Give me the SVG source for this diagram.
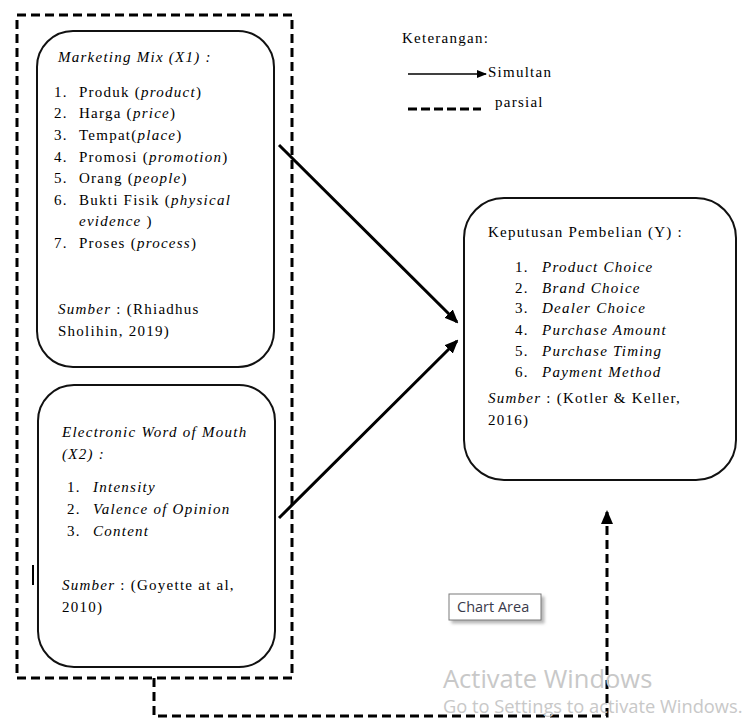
<svg xmlns="http://www.w3.org/2000/svg" width="748" height="718" viewBox="0 0 748 718">
<style>
.t{font-family:"Liberation Serif","Times New Roman",serif;font-size:15px;letter-spacing:1.25px;fill:#000}
.i{font-style:italic}
.box{fill:#fff;stroke:#111;stroke-width:2}
.dash{fill:none;stroke:#000;stroke-width:3;stroke-dasharray:9 5}
.sol{fill:none;stroke:#000;stroke-width:3}
.wm{font-family:"Open Sans","Noto Sans",sans-serif;fill:#c8c8c8}
</style>
<defs>
<marker id="ah" markerWidth="14" markerHeight="12" refX="12" refY="6" orient="auto" markerUnits="userSpaceOnUse">
<path d="M0,0 L14,6 L0,12 Z" fill="#000"/>
</marker>
<marker id="ahs" markerWidth="10" markerHeight="8" refX="9" refY="4" orient="auto" markerUnits="userSpaceOnUse">
<path d="M0,0 L10,4 L0,8 Z" fill="#000"/>
</marker>
<filter id="sh" x="-10%" y="-10%" width="130%" height="150%">
<feDropShadow dx="3" dy="3" stdDeviation="1.5" flood-color="#888" flood-opacity="0.6"/>
</filter>
</defs>
<rect width="748" height="718" fill="#fff"/>

<g id="outer-group">
<rect x="17" y="15" width="275" height="663" class="dash"/>
</g>

<g id="x1">
<rect x="37" y="31" width="237" height="336" rx="36" class="box"/>
<text class="t i" x="58" y="62">Marketing Mix (X1) :</text>
<text class="t" x="54" y="97">1.</text><text class="t" x="79" y="97">Produk (<tspan class="i">product</tspan>)</text>
<text class="t" x="54" y="118">2.</text><text class="t" x="79" y="118">Harga (<tspan class="i">price</tspan>)</text>
<text class="t" x="54" y="140">3.</text><text class="t" x="79" y="140">Tempat(<tspan class="i">place</tspan>)</text>
<text class="t" x="54" y="162">4.</text><text class="t" x="79" y="162">Promosi (<tspan class="i">promotion</tspan>)</text>
<text class="t" x="54" y="183">5.</text><text class="t" x="79" y="183">Orang (<tspan class="i">people</tspan>)</text>
<text class="t" x="54" y="205">6.</text><text class="t" x="79" y="205">Bukti Fisik  (<tspan class="i">physical</tspan></text>
<text class="t" x="79" y="226"><tspan class="i">evidence</tspan> )</text>
<text class="t" x="54" y="248">7.</text><text class="t" x="79" y="248">Proses (<tspan class="i">process</tspan>)</text>
<text class="t" x="58" y="314"><tspan class="i">Sumber</tspan> : (Rhiadhus</text>
<text class="t" x="58" y="336">Sholihin, 2019)</text>
</g>

<g id="x2">
<rect x="38" y="385" width="237" height="282" rx="36" class="box"/>
<text class="t i" x="62" y="437">Electronic Word of Mouth</text>
<text class="t i" x="62" y="459">(X2) :</text>
<text class="t" x="67" y="492">1.</text><text class="t i" x="93" y="492">Intensity</text>
<text class="t" x="67" y="514">2.</text><text class="t i" x="93" y="514">Valence of Opinion</text>
<text class="t" x="67" y="536">3.</text><text class="t i" x="93" y="536">Content</text>
<text class="t" x="62" y="590"><tspan class="i">Sumber</tspan> : (Goyette at al,</text>
<text class="t" x="62" y="612">2010)</text>
</g>

<g id="y">
<rect x="464" y="198" width="272" height="282" rx="40" class="box"/>
<text class="t" x="488" y="237">Keputusan Pembelian (Y) :</text>
<text class="t" x="515" y="272">1.</text><text class="t i" x="542" y="272">Product Choice</text>
<text class="t" x="515" y="293">2.</text><text class="t i" x="542" y="293">Brand Choice</text>
<text class="t" x="515" y="313">3.</text><text class="t i" x="542" y="313">Dealer Choice</text>
<text class="t" x="515" y="335">4.</text><text class="t i" x="542" y="335">Purchase Amount</text>
<text class="t" x="515" y="356">5.</text><text class="t i" x="542" y="356">Purchase Timing</text>
<text class="t" x="515" y="377">6.</text><text class="t i" x="542" y="377">Payment Method</text>
<text class="t" x="488" y="403"><tspan class="i">Sumber</tspan> : (Kotler &amp; Keller,</text>
<text class="t" x="488" y="425">2016)</text>
</g>

<g id="legend">
<text class="t" x="402" y="43">Keterangan:</text>
<line x1="408" y1="74" x2="486" y2="74" stroke="#000" stroke-width="1.6" marker-end="url(#ahs)"/>
<text class="t" x="488" y="77">Simultan</text>
<line x1="408" y1="109" x2="481" y2="109" stroke="#000" stroke-width="3" stroke-dasharray="9 4"/>
<text class="t" x="495" y="107">parsial</text>
</g>

<g id="connectors">
<line x1="279" y1="145" x2="457" y2="322" class="sol" marker-end="url(#ah)"/>
<line x1="279" y1="518" x2="457" y2="341" class="sol" marker-end="url(#ah)"/>
<path d="M154,678 V716 H607 V512" class="dash" marker-end="url(#ah)"/>
</g>

<line x1="33" y1="565" x2="33" y2="585" stroke="#000" stroke-width="2"/>

<g id="chart-area-tip">
<rect x="449" y="594" width="92" height="26" fill="#fff" stroke="#7a7a7a" stroke-width="1" filter="url(#sh)"/>
<text x="457" y="612" font-family="'Open Sans','Noto Sans',sans-serif" font-size="14.5" fill="#3a3a4a">Chart Area</text>
</g>

<g id="watermark">
<text class="wm" x="443" y="688" font-size="25.5">Activate Windows</text>
<text class="wm" x="443" y="713" font-size="18.3">Go to Settings to activate Windows.</text>
</g>
</svg>
